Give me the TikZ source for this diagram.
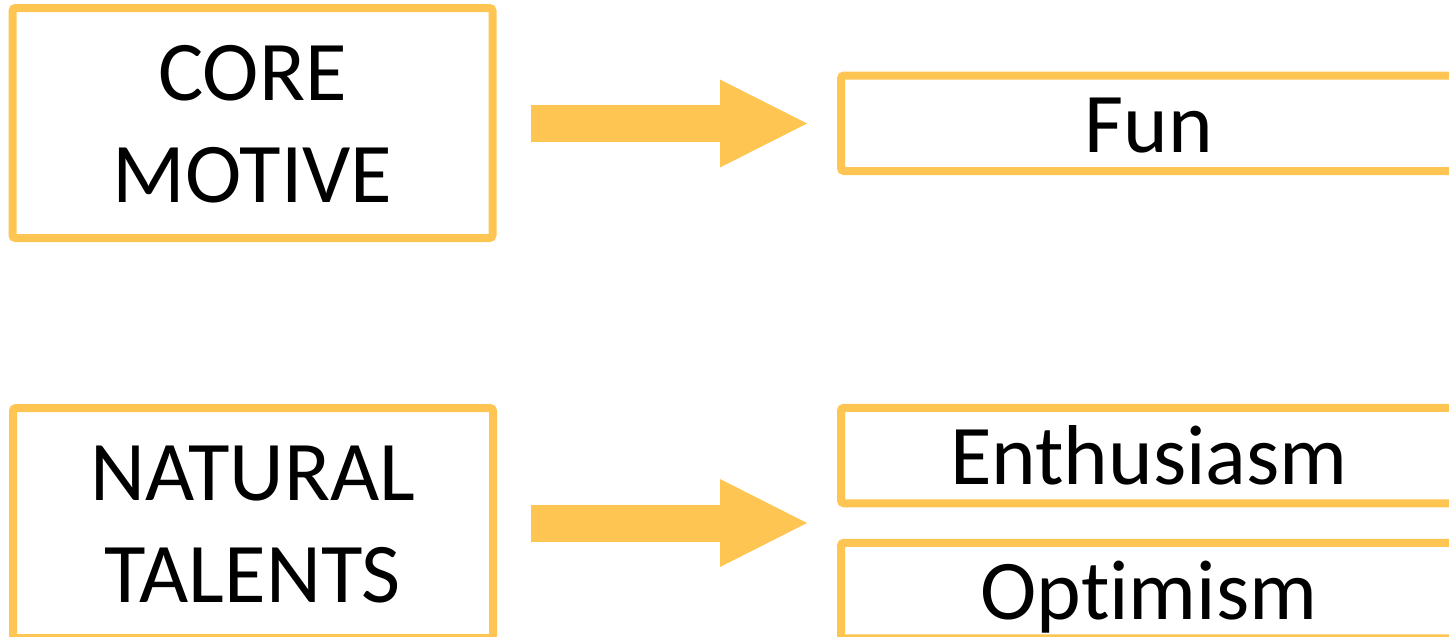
\documentclass[tikz,border=0pt]{standalone}
\usepackage{fontspec}
\setmainfont[RawFeature={-liga;-clig;-dlig}]{Carlito}
\usetikzlibrary{arrows.meta}
\definecolor{gold}{RGB}{255,197,83}
\tikzset{
  frame/.style={draw=gold, line width=8pt, rounded corners=3pt, inner sep=0pt, outer sep=0pt,
    font=\fontsize{85}{102}\selectfont, text=black},
  bigbox/.style={frame, minimum width=480pt, minimum height=230pt, text height=159.5pt, text depth=0pt},
  smallbox/.style={frame, minimum width=616pt, minimum height=95.5pt, text height=57.5pt, text depth=0pt},
  bigarrow/.style={draw=gold, line width=37pt,
    -{Triangle[length=87pt, width=88pt, line width=0pt]},
    shorten <=38pt, shorten >=34pt}
}
\newcommand{\twolines}[2]{\begin{tabular}[b]{@{}c@{}}#1\\#2\end{tabular}}
\begin{document}
\begin{tikzpicture}[x=1pt,y=-1pt]
\useasboundingbox (0,0) rectangle (1449,637);
\node[bigbox] (core) at (252.5,123) {\twolines{CORE}{MOTIVE}};
\node[bigbox] (nat) at (253,523) {\twolines{NATURAL}{TALENTS}};
\node[smallbox] (fun) at (1149,123.25) {Fun};
\node[smallbox] (ent) at (1149,455.5) {Enthusiasm};
\node[smallbox] (opt) at (1149,590.5) {Opt\kern0pt imism};
\draw[bigarrow] ([yshift=-0.5pt]core.east) -- ([yshift=-0.5pt]core.east -| fun.west);
\draw[bigarrow] (nat.east) -- (nat.east -| ent.west);
\end{tikzpicture}
\end{document}
